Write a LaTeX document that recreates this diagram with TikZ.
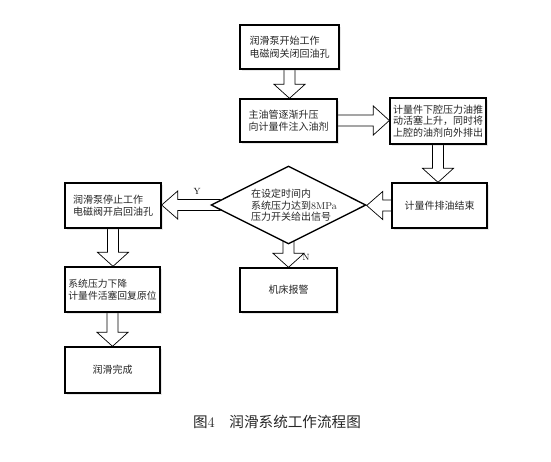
\documentclass[tikz,border=0pt]{standalone}
\usepackage{fontspec}
\newfontfamily\cjk{Noto Sans CJK SC}
\usetikzlibrary{shapes.geometric,shadows,calc,backgrounds}
\tikzset{
 box/.style={draw, line width=1.35pt, fill=white, inner sep=0pt, text=black!85,
   drop shadow={opacity=0.18,shadow xshift=1.8pt,shadow yshift=-1.8pt},
   font=\cjk\fontsize{10}{12.5}\selectfont, align=left},
 blockarrow/.style={draw, line width=0.7pt, fill=white, line join=miter},
 lbl/.style={font=\rmfamily\fontsize{9}{10}\selectfont, inner sep=0pt},
 txt/.style={font=\cjk\fontsize{10}{11.5}\selectfont, align=left, text=black!85, inner sep=0pt}
}
\newcommand\vblock[2]{%
 \draw[blockarrow] let \p1=(#1.south), \p2=(#2.north) in
 (\x1-5.5pt,\y1+12pt) -- (\x1-5.5pt,\y2+14pt) -- (\x1-15.5pt,\y2+14pt) -- (\x1,\y2)
 -- (\x1+15.5pt,\y2+14pt) -- (\x1+5.5pt,\y2+14pt) -- (\x1+5.5pt,\y1+12pt) -- cycle;}
\newcommand\rblock[2]{%
 \draw[blockarrow] let \p1=(#1.east), \p2=(#2.west) in
 (\x1-10pt,\y1+5.5pt) -- (\x2-16pt,\y1+5.5pt) -- (\x2-16pt,\y1+14.5pt) -- (\x2,\y1)
 -- (\x2-16pt,\y1-14.5pt) -- (\x2-16pt,\y1-5.5pt) -- (\x1-10pt,\y1-5.5pt) -- cycle;}
\newcommand\lblock[2]{%
 \draw[blockarrow] let \p1=(#1.west), \p2=(#2.east) in
 (\x1+10pt,\y1+5.5pt) -- (\x2+16pt,\y1+5.5pt) -- (\x2+16pt,\y1+14pt) -- (\x2,\y1)
 -- (\x2+16pt,\y1-14pt) -- (\x2+16pt,\y1-5.5pt) -- (\x1+10pt,\y1-5.5pt) -- cycle;}
\begin{document}
\begin{tikzpicture}[x=1pt,y=-1pt]
\useasboundingbox (0,0) rectangle (551,461);
\node[box, minimum width=99pt, minimum height=44pt] (b1) at (289.5,47) {润滑泵开始工作\\电磁阀关闭回油孔};
\node[box, minimum width=97pt, minimum height=43pt] (b2) at (288.5,120.5) {主油管逐渐升压\\向计量件注入油剂};
\node[box, minimum width=96pt, minimum height=46pt, font=\cjk\fontsize{10}{11.2}\selectfont] (b3) at (438,121) {计量件下腔压力油推\\动活塞上升，同时将\\上腔的油剂向外排出};
\node[box, minimum width=95pt, minimum height=45pt] (b4) at (439.5,205.5) {计量件排油结束};
\node[draw, diamond, line width=1.35pt, fill=white, inner sep=0pt, minimum width=155pt, minimum height=78pt] (d) at (288.5,205) {};
\node[txt, anchor=west] (dt) at (251,205.5) {在设定时间内\\系统压力达到{\rmfamily 8MPa}\\压力开关给出信号};
\node[box, minimum width=96pt, minimum height=45pt] (b5) at (113,205.5) {润滑泵停止工作\\电磁阀开启回油孔};
\node[box, minimum width=95pt, minimum height=45pt, font=\cjk\fontsize{9.8}{12}\selectfont] (b6) at (112.5,289.5) {系统压力下降\\计量件活塞回复原位};
\node[box, minimum width=95pt, minimum height=46pt] (b7) at (112.5,370) {润滑完成};
\node[box, minimum width=97pt, minimum height=44pt] (b8) at (288.5,290) {机床报警};
\node[lbl] (y) at (197,191) {Y};
\node[lbl] (n) at (306,257) {N};
\node[font=\cjk\fontsize{14.6}{16}\selectfont, text=black!85] (cap) at (277,422) {图{\rmfamily 4}\quad 润滑系统工作流程图};
\begin{pgfonlayer}{background}
\vblock{b1}{b2}
\rblock{b2}{b3}
\vblock{b3}{b4}
\lblock{b4}{d}
\lblock{d}{b5}
\vblock{d}{b8}
\vblock{b5}{b6}
\vblock{b6}{b7}
\end{pgfonlayer}
\end{tikzpicture}
\end{document}
